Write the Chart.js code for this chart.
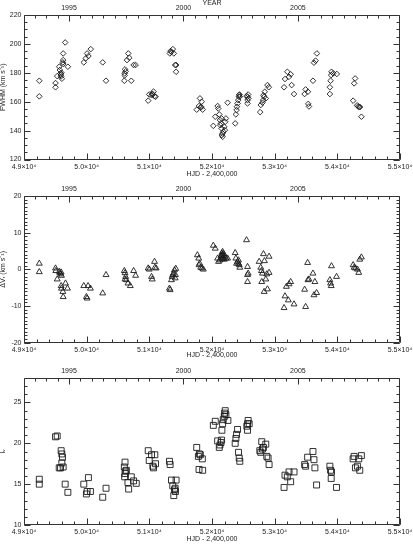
<!DOCTYPE html>
<html><head><meta charset="utf-8">
<script src="https://cdn.jsdelivr.net/npm/chart.js@4"></script>
<style>
html,body{margin:0;padding:0;background:#fff;width:413px;height:553px;overflow:hidden}
canvas{position:absolute;left:0;display:block}
</style></head><body>
<canvas id="c1" width="413" height="180" style="top:0px"></canvas>
<canvas id="c2" width="413" height="180" style="top:180px"></canvas>
<canvas id="c3" width="413" height="193" style="top:360px"></canvas>
<script>
// ---------------- data ----------------
const xTickValues = [49000, 50000, 51000, 52000, 53000, 54000, 55000];
const yearTickLabels = [1995, 2000, 2005];

const fwhmHJD = [49244,49244,49503,49503,49530,49562,49572,49583,49588,49593,49598,49604,49620,49625,49625,49625,49657,49700,
 49954,49986,50007,50028,50065,50256,50309,50601,50606,50612,50622,50606,50643,50664,50680,50712,50749,50781,
 50982,50998,51035,51046,51056,51067,51083,51099,51327,51338,51354,51375,51391,51412,51428,51427,
 51756,51792,51808,51824,51826,51835,51851,
 52021,52052,52090,52100,52116,52127,52132,52143,52153,52153,52158,52169,52169,52180,52196,52206,52211,52222,52249,
 52370,52381,52392,52397,52408,52418,52429,52434,52439,52444,
 52551,52567,52567,52567,52577,52582,52768,52778,52805,52816,52821,52832,52842,52858,52885,52906,
 53150,53165,53202,53229,53255,53271,53309,53478,53494,53531,53536,53547,53611,53627,53653,53674,
 53881,53881,53892,53902,53907,53934,53992,54252,54268,54284,54316,54331,54347,54363,54384];
const fwhm = [174.5,163.7,172.9,170,177.7,184.2,181.9,179.6,178.5,177.5,180,175.9,187.2,186.1,188.8,193.4,201,184.2,
 187.2,190,193.4,191.6,196.4,187.2,174.5,174.5,179.6,182.4,181,178.2,188.8,193.4,190.4,174.5,185.4,185.4,
 160.7,165,164.5,165.5,165,167,163.8,163.4,193.4,195,194.5,196.4,193.4,185.4,185.4,180.7,
 154.5,157,162.3,156,156.5,160,154.5,
 143.3,149.6,157,155.3,151.2,147.3,143.8,145,141.5,148.4,136.9,138,135.7,139.2,142.6,140.3,146.1,148.4,159.3,
 145,151.2,154.2,156.5,158.8,161.1,163.4,164.6,165,163.5,
 163.9,163.4,161.1,158.8,165,162.3,152.8,157.7,159.3,161.1,164.5,163.4,166.9,162.3,171.5,170,
 170,175.7,180.7,177.2,179,171.5,165.3,165.3,168.5,166.9,158.5,156.7,174.5,187,188.4,193.4,
 165.3,170,174.5,178.4,180.7,179.6,179.2,160.7,172.7,176.1,157.5,156.7,156.3,156.3,149.6];

const dvHJD = [49244,49244,49503,49508,49530,49562,49572,49588,49598,49593,49593,49598,49620,49625,49662,49694,
 49954,49996,50007,50023,50060,50256,50309,50601,50612,50622,50612,50633,50659,50696,50749,50781,
 50982,51000,51035,51046,51083,51088,51109,51321,51332,51353,51364,51374,51385,51401,51412,51422,51417,
 51767,51788,51793,51804,51820,51841,51862,
 52021,52052,52090,52105,52127,52143,52150,52158,52160,52165,52169,52175,52180,52185,52196,52211,52222,52249,
 52370,52381,52392,52408,52423,52434,52444,52423,52551,52567,52567,52577,52567,
 52752,52778,52789,52805,52821,52837,52794,52832,52858,52874,52885,52911,52911,
 53150,53165,53187,53218,53229,53255,53309,53478,53494,53526,53531,53547,53611,53627,53642,53669,
 53881,53892,53902,53907,53987,54252,54268,54289,54321,54342,54358,54384];
const dv = [1.6,-0.7,0.3,-0.4,-2.7,-0.6,-1.0,-1.3,-1.7,-0.8,-4.5,-5.2,-6.1,-7.5,-3.8,-5.2,
 -4.5,-7.5,-7.9,-4.5,-5.2,-6.5,-1.5,-0.4,-1.0,-2.0,-2.7,-2.9,-3.8,-4.5,-0.4,-1.7,
 0.3,0,-2.0,-2.7,2.1,0.5,0.3,-5.2,-5.6,-2.9,-2.0,-1.5,-1.1,-0.2,-2.4,0.2,-1.5,
 3.9,3.0,1.2,1.6,0.5,0.3,0.0,
 6.5,5.7,3.0,2.1,2.5,3.6,3.8,4.4,2.8,4.0,4.8,3.0,3.3,4.2,2.7,3.5,3.0,3.0,
 4.5,3.0,1.6,2.1,2.5,1.2,0.5,1.6,8.0,0.7,-1.5,-1.1,-3.4,
 2.1,0.5,-0.4,-1.1,4.2,2.3,-3.4,-6.1,-2.7,-1.3,-5.4,3.5,-0.9,
 -10.5,-7.3,-4.7,-8.4,-4.0,-3.4,-9.5,-5.5,-10.2,1.8,-2.9,-2.7,-1.1,-7.0,-3.4,-6.4,
 -2.9,-3.8,-4.5,0.9,-2.0,1.2,0.5,0.3,0.0,-0.9,2.7,3.3];

const ivHJD = [49244,49244,49503,49530,49562,49583,49593,49604,49604,49614,49625,49657,49700,
 49954,49996,50007,50028,50060,50256,50309,50601,50612,50606,50622,50612,50633,50659,50670,50712,50749,50791,
 50982,50998,51035,51056,51067,51088,51099,51321,51332,51353,51374,51390,51401,51412,51427,51417,
 51756,51783,51799,51814,51793,51846,51851,
 52021,52052,52090,52116,52127,52143,52153,52158,52169,52180,52196,52201,52211,52222,52254,
 52370,52381,52392,52408,52423,52434,52444,52556,52567,52577,52593,52567,
 52763,52778,52794,52805,52821,52858,52874,52895,52911,
 53150,53165,53202,53229,53255,53309,53478,53494,53526,53611,53627,53642,53669,
 53881,53892,53902,53907,53987,54252,54268,54289,54321,54342,54358,54384];
const iv = [15.6,15.0,20.8,20.9,17.0,17.0,19.1,18.7,17.6,18.3,17.1,15.0,14.0,
 15.0,13.8,14.1,15.8,14.1,13.4,14.5,17.1,17.7,15.9,16.6,16.3,16.7,15.2,14.4,15.9,15.4,15.1,
 19.1,17.9,18.6,17.2,17.0,18.6,17.5,17.8,17.4,15.5,14.8,13.6,14.3,14.5,15.5,14.1,
 19.5,18.4,18.7,18.6,16.8,18.1,16.7,
 22.2,22.7,20.3,19.5,19.8,20.1,20.4,21.6,22.4,22.9,23.3,23.7,24.0,23.5,22.8,
 20.0,20.6,21.1,21.7,18.9,18.2,17.8,22.1,22.4,22.8,22.4,21.6,
 19.1,18.9,20.2,19.3,19.5,19.9,18.4,18.2,17.4,
 14.6,16.1,15.9,16.5,15.3,16.5,17.4,17.2,18.3,19.0,18.0,17.0,14.9,
 17.2,16.7,15.7,16.5,14.6,18.1,18.4,17.0,17.2,18.1,16.7,18.5];

// ---------------- helpers ----------------
const F = '"Liberation Sans", Arial, sans-serif';
const INK = '#222';
const hjdToYear = h => 2000 + (h - 51544.5) / 365.25;
const range = (a, b, s) => { const r = []; for (let v = a; v <= b + 1e-9; v += s) r.push(+v.toFixed(3)); return r; };
const fmtX = v => (v / 10000).toFixed(1) + '×10⁴';

const frameTicks = {
  id: 'frameTicks',
  afterDraw(chart, args, o) {
    const {ctx, chartArea: a, scales} = chart;
    ctx.save();
    ctx.strokeStyle = '#333';
    ctx.lineWidth = 1;
    ctx.beginPath();
    const L = Math.round(a.left) + 0.5, R = Math.round(a.right) - 0.5, T = Math.round(a.top) + 0.5, B = Math.round(a.bottom) - 0.5;
    ctx.rect(L, T, R - L, B - T);
    const hx = (scale, vals, len, y, dir) => vals.forEach(v => { const p = Math.round(scale.getPixelForValue(v)) + 0.5; ctx.moveTo(p, y); ctx.lineTo(p, y + dir * len); });
    const vy = (scale, vals, len) => vals.forEach(v => { const p = Math.round(scale.getPixelForValue(v)) + 0.5; ctx.moveTo(L, p); ctx.lineTo(L + len, p); ctx.moveTo(R, p); ctx.lineTo(R - len, p); });
    hx(scales.x, o.xMajor, 6, B, -1);
    hx(scales.x, o.xMinor, 3, B, -1);
    hx(scales.year, o.yrMajor, 6, T, 1);
    hx(scales.year, o.yrMinor, 3, T, 1);
    vy(scales.y, o.yMajor, 6);
    vy(scales.y, o.yMinor, 3);
    ctx.stroke();
    ctx.restore();
  }
};

function panel(id, c) {
  return new Chart(document.getElementById(id), {
    type: 'scatter',
    data: { datasets: [{
      data: c.hjd.map((x, i) => ({ x: x, y: c.vals[i] })),
      pointStyle: c.style, pointRadius: c.r, pointHoverRadius: c.r,
      borderColor: '#1c1c1c', backgroundColor: 'rgba(0,0,0,0)', borderWidth: 0.9
    }]},
    options: {
      responsive: false, animation: false, events: [],
      layout: { padding: { left: 0, right: 13, top: 0, bottom: 0 } },
      plugins: {
        legend: { display: false }, tooltip: { enabled: false },
        frameTicks: { xMajor: xTickValues, xMinor: range(49000, 55000, 200), yrMajor: yearTickLabels,
                      yrMinor: range(1993.5, 2009, 0.5), yMajor: c.yMajor, yMinor: c.yMinor }
      },
      scales: {
        x: {
          type: 'linear', position: 'bottom', min: 49000, max: 55000,
          afterBuildTicks: s => { s.ticks = xTickValues.map(v => ({ value: v })); },
          afterFit: s => { s.height = c.bottomH; s.paddingLeft = 0; s.paddingRight = 0; },
          grid: { display: false, drawTicks: false }, border: { display: false },
          ticks: { callback: v => fmtX(v), font: { size: 7, family: F }, color: INK, padding: 3, maxRotation: 0, autoSkip: false },
          title: { display: true, text: 'HJD - 2,400,000', font: { size: 7, family: F }, color: INK, padding: { top: 0, bottom: c.hjdPad } }
        },
        year: {
          type: 'linear', position: 'top', axis: 'x', min: hjdToYear(49000), max: hjdToYear(55000),
          afterBuildTicks: s => { s.ticks = yearTickLabels.map(v => ({ value: v })); },
          afterFit: s => { s.height = c.topH; s.paddingLeft = 0; s.paddingRight = 0; },
          grid: { display: false, drawTicks: false }, border: { display: false },
          ticks: { callback: v => String(v), font: { size: 7, family: F }, color: INK, padding: 3, maxRotation: 0, autoSkip: false },
          title: { display: c.showYear, text: 'YEAR', font: { size: 7, family: F }, color: INK, padding: { top: -1.5, bottom: 0 } }
        },
        y: {
          type: 'linear', position: 'left', min: c.yMin, max: c.yMax,
          afterBuildTicks: s => { s.ticks = c.yMajor.map(v => ({ value: v })); },
          afterFit: s => { s.width = 24; s.paddingTop = 0; s.paddingBottom = 0; },
          grid: { display: false, drawTicks: false }, border: { display: false },
          ticks: { callback: v => String(v), font: { size: 7, family: F }, color: INK, padding: 2.5, autoSkip: false },
          title: { display: true, text: c.yTitle, font: { size: 7, family: F }, color: INK, padding: { top: -1.5, bottom: 0 } }
        }
      }
    },
    plugins: [frameTicks]
  });
}

panel('c1', { hjd: fwhmHJD, vals: fwhm, style: 'rectRot', r: 2.8, yMin: 120, yMax: 220,
  yMajor: [120, 140, 160, 180, 200, 220], yMinor: range(120, 220, 5),
  yTitle: 'FWHM (km s⁻¹)', topH: 15, bottomH: 20.5, hjdPad: 1.8, showYear: true });
panel('c2', { hjd: dvHJD, vals: dv, style: 'triangle', r: 3.4, yMin: -20, yMax: 20,
  yMajor: [-20, -10, 0, 10, 20], yMinor: range(-20, 20, 1),
  yTitle: 'ΔVᵣ (km s⁻¹)', topH: 16, bottomH: 17.3, hjdPad: 0.8, showYear: false });
panel('c3', { hjd: ivHJD, vals: iv, style: 'rect', r: 4.2, yMin: 10, yMax: 28,
  yMajor: [10, 15, 20, 25], yMinor: range(10, 28, 1),
  yTitle: 'Iᵥ', topH: 18, bottomH: 28, hjdPad: 9.8, showYear: false });
</script>
</body></html>
